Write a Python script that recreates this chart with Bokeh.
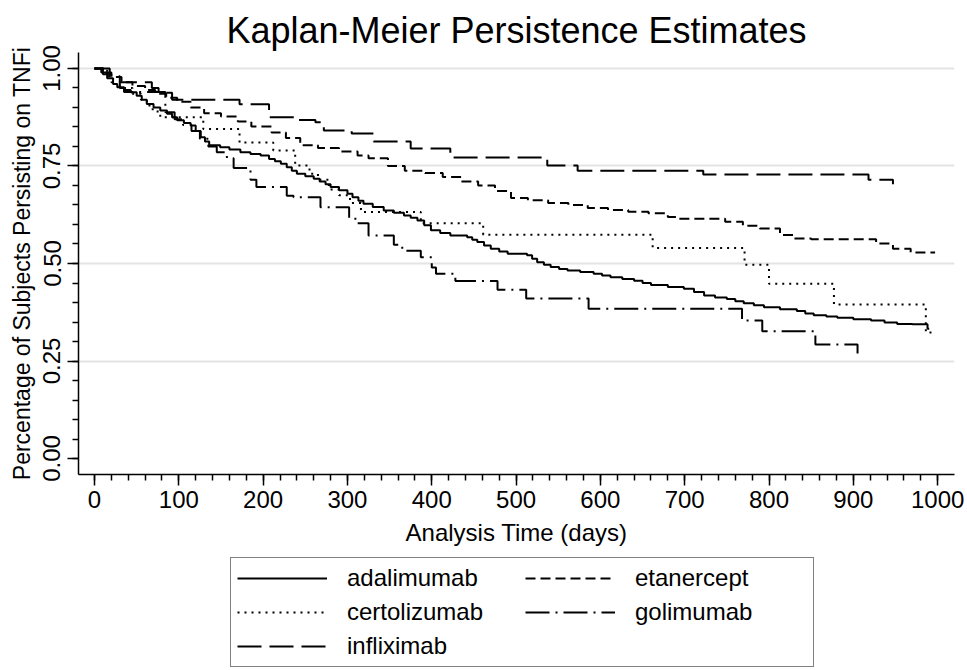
from bokeh.plotting import figure
from bokeh.models import FixedTicker, Legend, LegendItem, Range1d
from bokeh.layouts import column
from bokeh.embed import file_html
from bokeh.resources import INLINE

FONT = "Liberation Sans"

# ---- data (Kaplan-Meier step points: time in days, survival) ----
adalimumab_t = [0, 8, 15, 22, 27, 35, 43, 50, 56, 62, 70, 78, 86, 92, 98, 106, 114, 120, 126, 131,
                136, 149, 160, 173, 185, 197, 207, 214, 221, 228, 234, 240, 250, 260, 267, 274, 280,
                290, 300, 306, 313, 319, 330, 343, 355, 367, 375, 383, 391, 399, 410, 422, 442, 448,
                454, 462, 470, 480, 490, 513, 519, 525, 533, 541, 551, 561, 576, 592, 602, 612, 626,
                640, 650, 660, 680, 699, 711, 723, 736, 750, 760, 770, 782, 794, 813, 833, 843, 853,
                868, 881, 900, 921, 937, 952, 970, 988, 990]
adalimumab_s = [1.0, 0.99, 0.975, 0.96, 0.952, 0.945, 0.939, 0.93, 0.92, 0.909, 0.90, 0.892, 0.884,
                0.875, 0.867, 0.86, 0.854, 0.84, 0.824, 0.813, 0.803, 0.798, 0.792, 0.785, 0.781,
                0.777, 0.768, 0.762, 0.756, 0.747, 0.738, 0.730, 0.724, 0.717, 0.710, 0.703, 0.696,
                0.688, 0.679, 0.670, 0.661, 0.653, 0.645, 0.636, 0.630, 0.623, 0.617, 0.610, 0.598,
                0.585, 0.578, 0.572, 0.567, 0.561, 0.555, 0.546, 0.538, 0.531, 0.525, 0.521, 0.512,
                0.503, 0.497, 0.491, 0.486, 0.482, 0.478, 0.474, 0.469, 0.465, 0.460, 0.456, 0.450,
                0.445, 0.440, 0.435, 0.427, 0.418, 0.413, 0.409, 0.403, 0.398, 0.393, 0.388, 0.383,
                0.378, 0.372, 0.367, 0.364, 0.361, 0.357, 0.354, 0.349, 0.345, 0.344, 0.333, 0.333]

certolizumab_t = [0, 15, 22, 30, 45, 55, 62, 69, 78, 129, 172, 212, 238, 255, 265, 278, 290, 303,
                  316, 387, 461, 662, 771, 800, 877, 986, 996]
certolizumab_s = [1.0, 0.98, 0.96, 0.95, 0.935, 0.92, 0.905, 0.89, 0.875, 0.845, 0.81, 0.79, 0.751,
                  0.73, 0.715, 0.69, 0.675, 0.655, 0.632, 0.603, 0.574, 0.54, 0.497, 0.448, 0.395,
                  0.323, 0.323]

etanercept_t = [0, 10, 20, 32, 45, 60, 72, 85, 98, 114, 130, 150, 170, 186, 210, 227, 244, 265, 290,
                312, 325, 348, 368, 392, 413, 435, 455, 475, 494, 514, 538, 562, 585, 609, 633, 657,
                680, 690, 748, 769, 789, 813, 829, 850, 927, 947, 968, 997]
etanercept_s = [1.0, 0.99, 0.978, 0.965, 0.955, 0.945, 0.935, 0.925, 0.915, 0.90, 0.885, 0.877,
                0.864, 0.851, 0.836, 0.822, 0.803, 0.796, 0.787, 0.777, 0.77, 0.75, 0.738, 0.732,
                0.722, 0.71, 0.70, 0.686, 0.668, 0.662, 0.655, 0.65, 0.642, 0.637, 0.633, 0.629,
                0.619, 0.615, 0.607, 0.597, 0.59, 0.573, 0.564, 0.562, 0.551, 0.538, 0.528, 0.528]

golimumab_t = [0, 10, 20, 30, 35, 84, 95, 105, 115, 125, 135, 145, 157, 165, 185, 192, 228, 236,
               268, 302, 312, 325, 355, 365, 387, 400, 405, 428, 478, 512, 586, 768, 792, 855, 905]
golimumab_s = [1.0, 0.985, 0.965, 0.95, 0.94, 0.888, 0.87, 0.855, 0.84, 0.82, 0.80, 0.785, 0.77,
               0.745, 0.715, 0.696, 0.674, 0.670, 0.644, 0.615, 0.603, 0.572, 0.548, 0.533, 0.516,
               0.49, 0.474, 0.455, 0.433, 0.41, 0.384, 0.354, 0.326, 0.292, 0.269]

infliximab_t = [0, 18, 30, 68, 76, 92, 172, 207, 237, 262, 272, 305, 331, 375, 422, 537, 573, 722,
                918, 947]
infliximab_s = [1.0, 0.98, 0.965, 0.95, 0.938, 0.92, 0.908, 0.875, 0.868, 0.862, 0.841, 0.833,
                0.813, 0.795, 0.772, 0.751, 0.738, 0.728, 0.715, 0.703]

x_ticks = [0, 100, 200, 300, 400, 500, 600, 700, 800, 900, 1000]
x_minor = list(range(0, 1001, 20))
y_ticks = [0.0, 0.25, 0.5, 0.75, 1.0]
y_tick_labels = ["0.00", "0.25", "0.50", "0.75", "1.00"]
y_minor = [i / 20 for i in range(21)]
grid_ticks = [0.25, 0.5, 0.75, 1.0]

series = [
    ("adalimumab", adalimumab_t, adalimumab_s, "solid"),
    ("certolizumab", certolizumab_t, certolizumab_s, "2 5"),
    ("infliximab", infliximab_t, infliximab_s, "24 8"),
    ("etanercept", etanercept_t, etanercept_s, "10 5"),
    ("golimumab", golimumab_t, golimumab_s, "24 6 2 6"),
]

# ---- main plot ----
p = figure(width=967, height=556, output_backend="svg", toolbar_location=None,
           x_range=Range1d(-19, 1020), y_range=Range1d(-0.041, 1.041),
           min_border_left=78, min_border_right=13, min_border_top=52, min_border_bottom=82,
           background_fill_color="white", border_fill_color="white")
p.outline_line_color = None

p.title.text = "Kaplan-Meier Persistence Estimates"
p.title.align = "center"
p.title.text_font = FONT
p.title.text_font_size = "36px"
p.title.text_font_style = "normal"
p.title.text_color = "black"
p.title.standoff = 4

for name, t, s, dash in series:
    p.step(t, s, mode="after", line_color="black", line_width=2, line_dash=dash)

p.xaxis.ticker = FixedTicker(ticks=x_ticks, minor_ticks=x_minor)
p.yaxis.ticker = FixedTicker(ticks=y_ticks, minor_ticks=y_minor)
p.yaxis.major_label_overrides = {v: l for v, l in zip(y_ticks, y_tick_labels)}
p.yaxis.major_label_orientation = "vertical"
p.xaxis.axis_label = "Analysis Time (days)"
p.yaxis.axis_label = "Percentage of Subjects Persisting on TNFi"

for ax in (p.xaxis[0], p.yaxis[0]):
    ax.axis_line_color = "black"
    ax.axis_line_width = 1.5
    ax.major_tick_line_color = "black"
    ax.major_tick_line_width = 1.5
    ax.minor_tick_line_color = "black"
    ax.minor_tick_line_width = 1.5
    ax.major_tick_in = 0
    ax.major_tick_out = 11
    ax.minor_tick_in = 0
    ax.minor_tick_out = 6
    ax.major_label_text_font = FONT
    ax.major_label_text_font_size = "24px"
    ax.major_label_text_color = "black"
    ax.axis_label_text_font = FONT
    ax.axis_label_text_font_size = "24px"
    ax.axis_label_text_font_style = "normal"
    ax.axis_label_text_color = "black"

p.xaxis.major_label_standoff = 5
p.xaxis.axis_label_standoff = 8
p.yaxis.major_label_standoff = 7
p.yaxis.axis_label_standoff = 6
p.yaxis.axis_label_text_font_size = "23px"

p.xgrid.visible = False
p.ygrid.ticker = FixedTicker(ticks=grid_ticks)
p.ygrid.grid_line_color = "#e4e4e4"
p.ygrid.grid_line_width = 2

# ---- legend panel (hidden copies of the series serve as legend glyphs) ----
pl = figure(width=967, height=114, output_backend="svg", toolbar_location=None,
            x_axis_type=None, y_axis_type=None, x_range=Range1d(0, 1), y_range=Range1d(0, 1),
            min_border_left=0, min_border_right=0, min_border_top=0, min_border_bottom=0,
            background_fill_color="white", border_fill_color="white")
pl.outline_line_color = None
pl.xgrid.visible = False
pl.ygrid.visible = False

items = []
for name, t, s, dash in series:
    r = pl.step(t, s, mode="after", line_color="black", line_width=2, line_dash=dash,
                visible=False)
    items.append(LegendItem(label=name, renderers=[r]))

legend = Legend(items=items, location=(152, 3), orientation="vertical", nrows=3,
                glyph_width=90, glyph_height=20, label_standoff=20, label_width=172,
                spacing=6, padding=6, margin=0, click_policy="none",
                label_text_font=FONT, label_text_font_size="24px", label_text_color="black",
                border_line_color="black", border_line_width=1.5,
                background_fill_color="white", background_fill_alpha=1.0)
pl.add_layout(legend, "center")

layout = column(p, pl, spacing=0)
open("out.html", "w").write(file_html(layout, INLINE))
